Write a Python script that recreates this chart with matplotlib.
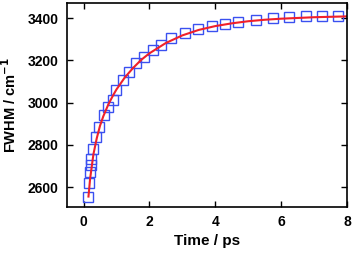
import matplotlib
matplotlib.use("Agg")
import matplotlib.pyplot as plt

plt.rcParams['font.family'] = ['Liberation Sans', 'DejaVu Sans']
plt.rcParams['font.weight'] = 'bold'
plt.rcParams['mathtext.default'] = 'bf'

time_ps = [0.15, 0.18, 0.20, 0.22, 0.24, 0.28, 0.38, 0.48, 0.62, 0.74, 0.89,
           1.00, 1.19, 1.39, 1.60, 1.85, 2.10, 2.35, 2.65, 3.09, 3.49, 3.90,
           4.30, 4.70, 5.23, 5.74, 6.24, 6.75, 7.25, 7.73]
fwhm = [2554, 2617, 2672, 2704, 2731, 2778, 2838, 2885, 2940, 2980, 3011,
        3059, 3106, 3145, 3185, 3216, 3248, 3272, 3304, 3327, 3346, 3362,
        3371, 3382, 3393, 3398, 3405, 3409, 3410, 3412]

fit_t = [0.15, 0.2, 0.3, 0.4, 0.5, 0.6, 0.75, 0.9, 1.0, 1.25, 1.5, 1.75, 2.0,
         2.5, 3.0, 3.5, 4.0, 4.5, 5.0, 5.5, 6.0, 7.0, 8.0]
fit_v = [2555, 2640, 2755, 2830, 2890, 2935, 2990, 3035, 3062, 3118, 3163,
         3202, 3233, 3282, 3318, 3344, 3362, 3375, 3385, 3392, 3397, 3404, 3408]

xticks = [0, 2, 4, 6, 8]
yticks = [2600, 2800, 3000, 3200, 3400]

fig = plt.figure(figsize=(3.53, 2.56), dpi=100)
ax = fig.add_axes([0.19, 0.191, 0.793, 0.797])

ax.plot(time_ps, fwhm, linestyle='none', marker='s', markersize=7.2,
        markerfacecolor='none', markeredgecolor='#3a50f0', markeredgewidth=1.0)
ax.plot(fit_t, fit_v, color='#f0202a', linewidth=1.5)

ax.set_xlim(-0.5, 8)
ax.set_ylim(2505, 3471)
ax.set_xticks(xticks)
ax.set_yticks(yticks)
ax.tick_params(direction='in', top=True, right=True, length=4, width=1,
               labelsize=10, pad=6)
for lab in ax.get_xticklabels() + ax.get_yticklabels():
    lab.set_fontweight('bold')
for s in ax.spines.values():
    s.set_linewidth(1.2)

ax.set_xlabel('Time / ps', fontsize=11, fontweight='bold', labelpad=3)
ax.set_ylabel('FWHM / cm$^{-1}$', fontsize=10.5, fontweight='bold', labelpad=6)

fig.savefig('out.png', dpi=100)
